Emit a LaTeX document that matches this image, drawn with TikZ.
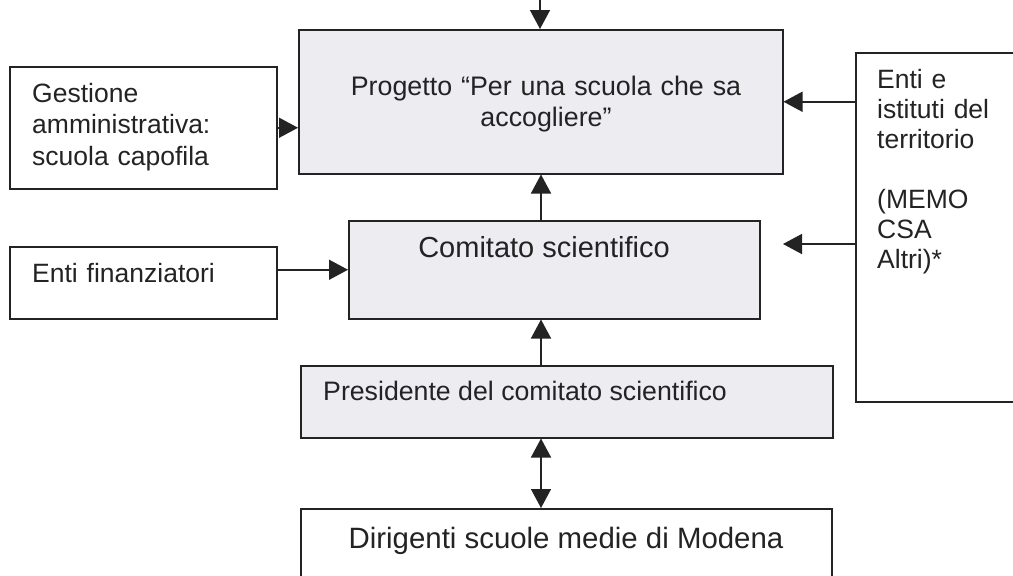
\documentclass[tikz,border=0pt]{standalone}
\usepackage{fontspec}
\setmainfont{Liberation Sans}
\usetikzlibrary{arrows.meta}
\definecolor{shade}{RGB}{236,236,241}
\definecolor{ink}{RGB}{35,35,35}
\begin{document}
\begin{tikzpicture}[x=1pt,y=-1pt,
  box/.style={draw=ink, line width=1.5pt, inner sep=0pt, anchor=north west},
  shaded/.style={box, fill=shade},
  txt/.style={inner sep=0pt, text=ink, font=\fontsize{26.5}{31.5}\selectfont},
  arr/.style={draw=ink, line width=1.5pt, -{Triangle[length=19pt,width=20pt]}},
  darr/.style={draw=ink, line width=1.5pt, {Triangle[length=19pt,width=20pt]}-{Triangle[length=19pt,width=20pt]}}]
\useasboundingbox (0,0) rectangle (1013,576);
\fill[white] (0,0) rectangle (1013,576);
% boxes
\node[shaded, minimum width=484pt, minimum height=144pt] (prog) at (298,29) {};
\node[box, minimum width=267pt, minimum height=122pt] (gest) at (9,66) {};
\node[box, minimum width=267pt, minimum height=72pt] (fin) at (9,246) {};
\node[box, minimum width=170pt, minimum height=349pt] (ent) at (855,52) {};
\node[shaded, minimum width=411pt, minimum height=98pt] (com) at (348,220) {};
\node[shaded, minimum width=532pt, minimum height=72pt] (pres) at (300,365) {};
\node[box, minimum width=531pt, minimum height=90pt] (dir) at (300,508) {};
% texts
\node[txt, font=\fontsize{26.8}{31}\selectfont, text width=480pt, align=center, anchor=base] (progt) at (546,95) {Progetto “Per una scuola che sa\\accogliere”};
\node[txt, text width=240pt, align=left, anchor=base west] (gestt) at (32,102) {Gestione\\amministrativa:\\scuola capofila};
\node[txt, text width=240pt, align=left, anchor=base west] (fint) at (32,282) {Enti finanziatori};
\node[txt, font=\fontsize{26.5}{30}\selectfont, text width=130pt, align=left, anchor=base west] (entt) at (877,88) {Enti e\\istituti del\\territorio\\[30pt](MEMO\\CSA\\Altri)*};
\node[txt, font=\fontsize{29}{32}\selectfont, anchor=base] (comt) at (544,257) {Comitato scientifico};
\node[txt, font=\fontsize{26.7}{31}\selectfont, anchor=base west] (prest) at (323,400) {Presidente del comitato scientifico};
\node[txt, font=\fontsize{29.4}{33}\selectfont, anchor=base] (dirt) at (566,548) {Dirigenti scuole medie di Modena};
% connectors
\coordinate (axis) at (541,0);
\coordinate (topsrc) at (540,-5);
\coordinate (dang) at (783,244);
\draw[arr] (topsrc) -- (topsrc |- prog.north);
\draw[arr] (gest.east) -- (gest.east -| prog.west);
\draw[arr] (prog.east -| ent.west) -- (prog.east);
\draw[arr] (dang -| ent.west) -- (dang);
\draw[arr] (com.west -| fin.east) -- (com.west);
\draw[arr] (com.north -| axis) -- (prog.south -| axis);
\draw[arr] (pres.north -| axis) -- (com.south -| axis);
\draw[darr] (dir.north -| axis) -- (pres.south -| axis);
\end{tikzpicture}
\end{document}
